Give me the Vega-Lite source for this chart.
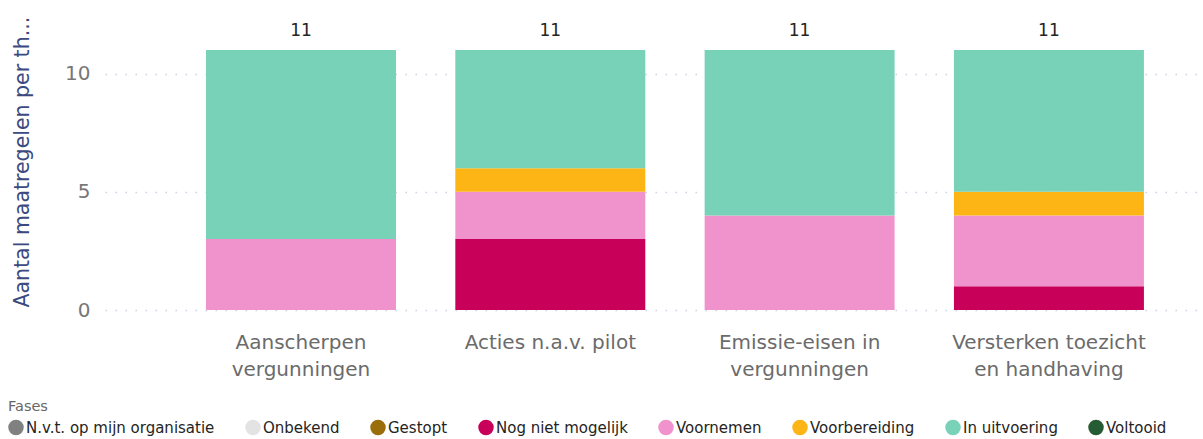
{
  "$schema": "https://vega.github.io/schema/vega-lite/v6.json",
  "width": 1095,
  "height": 260,
  "autosize": "none",
  "padding": {"left": 105, "top": 50, "right": 3, "bottom": 129},
  "background": "white",
  "config": {"view": {"stroke": null}, "font": "DejaVu Sans"},
  "data": {
    "values": [
      {"thema": "Aanscherpen vergunningen", "fase": "Voornemen", "aantal": 3},
      {"thema": "Aanscherpen vergunningen", "fase": "In uitvoering", "aantal": 8},
      {"thema": "Acties n.a.v. pilot", "fase": "Nog niet mogelijk", "aantal": 3},
      {"thema": "Acties n.a.v. pilot", "fase": "Voornemen", "aantal": 2},
      {"thema": "Acties n.a.v. pilot", "fase": "Voorbereiding", "aantal": 1},
      {"thema": "Acties n.a.v. pilot", "fase": "In uitvoering", "aantal": 5},
      {"thema": "Emissie-eisen in vergunningen", "fase": "Voornemen", "aantal": 4},
      {"thema": "Emissie-eisen in vergunningen", "fase": "In uitvoering", "aantal": 7},
      {"thema": "Versterken toezicht en handhaving", "fase": "Nog niet mogelijk", "aantal": 1},
      {"thema": "Versterken toezicht en handhaving", "fase": "Voornemen", "aantal": 3},
      {"thema": "Versterken toezicht en handhaving", "fase": "Voorbereiding", "aantal": 1},
      {"thema": "Versterken toezicht en handhaving", "fase": "In uitvoering", "aantal": 6}
    ]
  },
  "encoding": {
    "x": {
      "field": "thema",
      "type": "nominal",
      "sort": null,
      "scale": {"paddingInner": 0.238, "paddingOuter": 0.315, "align": 0.643},
      "axis": {
        "title": null,
        "domain": false,
        "ticks": false,
        "labelAngle": 0,
        "labelFont": "DejaVu Sans",
        "labelFontSize": 20,
        "labelColor": "#6b6b6b",
        "labelPadding": 22,
        "labelLineHeight": 27,
        "labelBaseline": "top",
        "labelLimit": 300,
        "labelExpr": "datum.label == 'Aanscherpen vergunningen' ? ['Aanscherpen', 'vergunningen'] : datum.label == 'Emissie-eisen in vergunningen' ? ['Emissie-eisen in', 'vergunningen'] : datum.label == 'Versterken toezicht en handhaving' ? ['Versterken toezicht', 'en handhaving'] : datum.label"
      }
    }
  },
  "layer": [
    {
      "transform": [
        {"calculate": "indexof(['Nog niet mogelijk', 'Voornemen', 'Voorbereiding', 'In uitvoering'], datum.fase)", "as": "stapel"}
      ],
      "mark": {"type": "bar"},
      "encoding": {
        "y": {
          "field": "aantal",
          "type": "quantitative",
          "aggregate": "sum",
          "scale": {"domain": [0, 11], "nice": false},
          "axis": {
            "title": "Aantal maatregelen per th...",
            "titleFont": "DejaVu Sans",
            "titleFontWeight": "normal",
            "titleFontSize": 20.5,
            "titleColor": "#3b4a80",
            "titleAngle": 270,
            "titleAlign": "left",
            "titleBaseline": "middle",
            "titleX": -83,
            "titleY": 257,
            "titleLimit": 320,
            "values": [0, 5, 10],
            "domain": false,
            "ticks": false,
            "labelFont": "DejaVu Sans",
            "labelFontSize": 20,
            "labelColor": "#777777",
            "labelPadding": 15,
            "gridColor": "#c9d3df",
            "gridDash": [1.5, 8.5],
            "gridWidth": 1.5
          }
        },
        "order": {"field": "stapel", "type": "quantitative", "sort": "ascending"},
        "color": {
          "field": "fase",
          "type": "nominal",
          "scale": {
            "domain": ["N.v.t. op mijn organisatie", "Onbekend", "Gestopt", "Nog niet mogelijk", "Voornemen", "Voorbereiding", "In uitvoering", "Voltooid"],
            "range": ["#808080", "#e3e3e3", "#996e0b", "#c8005a", "#f093cc", "#fdb515", "#77d2b7", "#265c33"]
          },
          "legend": {
            "title": "Fases",
            "orient": "none",
            "legendX": -97,
            "legendY": 350,
            "direction": "horizontal",
            "titleFont": "DejaVu Sans",
            "titleFontWeight": "normal",
            "titleFontSize": 14.5,
            "titleColor": "#666666",
            "titlePadding": 5,
            "labelFont": "DejaVu Sans",
            "labelFontSize": 15,
            "labelColor": "#252423",
            "labelOffset": 2,
            "labelLimit": 300,
            "symbolType": "circle",
            "symbolSize": 240,
            "symbolStrokeWidth": 0,
            "columnPadding": 30
          }
        }
      }
    },
    {
      "mark": {"type": "text", "baseline": "bottom", "dy": -10, "font": "DejaVu Sans", "fontSize": 17, "color": "#252423"},
      "encoding": {
        "y": {"field": "aantal", "type": "quantitative", "aggregate": "sum"},
        "text": {"field": "aantal", "type": "quantitative", "aggregate": "sum"}
      }
    }
  ]
}
